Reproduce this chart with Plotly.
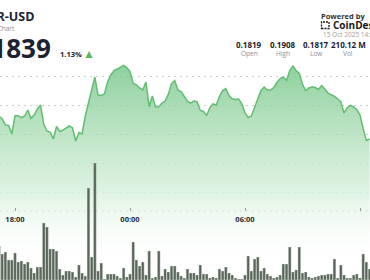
import pandas as pd
import plotly.graph_objects as go

# ---------------- data ----------------
start_time = "2025-10-14 17:10"
price = [0.18655, 0.18629, 0.18578, 0.18573, 0.18500, 0.18658, 0.18658, 0.18642, 0.18655, 0.18707,
         0.18635, 0.18664, 0.18717, 0.18750, 0.18586, 0.18526, 0.18517, 0.18457, 0.18565, 0.18522,
         0.18534, 0.18552, 0.18569, 0.18552, 0.18440, 0.18513, 0.18500, 0.18655, 0.18776, 0.18897,
         0.18991, 0.18836, 0.18832, 0.18845, 0.18948, 0.19009, 0.19047, 0.19060, 0.19078, 0.19091,
         0.19073, 0.19039, 0.18935, 0.18924, 0.18897, 0.18881, 0.18948, 0.18735, 0.18828, 0.18733,
         0.18734, 0.18767, 0.18784, 0.18841, 0.18935, 0.18961, 0.18879, 0.18866, 0.18823, 0.18780,
         0.18767, 0.18784, 0.18778, 0.18703, 0.18694, 0.18659, 0.18728, 0.18759, 0.18750, 0.18823,
         0.18875, 0.18892, 0.18832, 0.18803, 0.18797, 0.18802, 0.18759, 0.18685, 0.18642, 0.18655,
         0.18728, 0.18806, 0.18875, 0.18905, 0.18879, 0.18879, 0.18901, 0.18944, 0.18978, 0.18991,
         0.18961, 0.19047, 0.19086, 0.19047, 0.19023, 0.18927, 0.18875, 0.18897, 0.18908, 0.18901,
         0.18884, 0.18918, 0.18888, 0.18853, 0.18838, 0.18825, 0.18804, 0.18776, 0.18681, 0.18727,
         0.18747, 0.18733, 0.18711, 0.18664, 0.18543, 0.18444, 0.18457]
volume_m = [3.4, 2.6, 2.8, 2.0, 2.0, 2.7, 1.8, 1.9, 1.6, 1.8,
            1.2, 0.7, 1.3, 1.3, 5.7, 5.3, 3.1, 3.1, 2.9, 1.1,
            0.5, 0.9, 0.9, 0.8, 0.3, 1.5, 0.7, 0.4, 9.2, 2.3,
            11.7, 0.9, 1.7, 0.1, 0.6, 0.6, 0.6, 0.4, 0.2, 1.2,
            0.3, 0.6, 3.8, 2.0, 1.4, 1.8, 0.5, 2.9, 0.2, 0.3,
            2.9, 0.4, 1.1, 0.8, 1.4, 1.4, 0.8, 0.4, 0.2, 1.1,
            0.7, 0.7, 0.5, 1.5, 0.6, 0.6, 0.2, 0.3, 0.2, 1.1,
            0.9, 1.3, 0.7, 0.5, 0.2, 0.1, 0.1, 0.5, 2.4, 0.9,
            2.1, 2.3, 0.9, 1.2, 0.6, 0.4, 0.2, 0.3, 0.5, 1.6,
            1.6, 3.3, 0.8, 1.0, 3.3, 0.7, 0.8, 0.3, 0.2, 0.3,
            0.4, 0.5, 0.5, 0.6, 0.6, 2.1, 0.2, 1.5, 0.5, 0.2,
            0.2, 0.5, 0.6, 0.2, 2.6, 1.8, 1.1]
price_grid = [0.1800, 0.1825, 0.1850, 0.1875, 0.1900]
x_view = ["2025-10-14 17:13:02", "2025-10-15 12:31:18"]
title_text = "HBAR-USD"
subtitle_text = "Price Chart"
last_price = "0.1839"
change_pct = "1.13%"
stat_values = ["0.1819", "0.1908", "0.1817", "210.12 M"]
stat_labels = ["Open", "High", "Low", "Vol"]
date_text = "15 Oct 2025 14:30 UTC"

times = pd.date_range(start_time, periods=len(price), freq="10min")

W, H = 370, 280
def px(x):
    return x / W
def py(y):
    return 1 - y / H

fig = go.Figure()
fig.add_trace(go.Scatter(
    x=times, y=price, mode="lines",
    line=dict(color="#62bd72", width=1.5),
    fill="tozeroy",
    fillgradient=dict(
        type="vertical",
        start=0.1735, stop=0.1912,
        colorscale=[[0.0, "rgba(255,255,255,0)"],
                    [0.367, "rgba(214,240,219,0.8)"],
                    [0.65, "rgba(174,222,184,0.8)"],
                    [1.0, "rgba(111,196,131,0.8)"]],
    ),
    hoverinfo="skip",
))
fig.add_trace(go.Bar(
    x=times, y=volume_m, yaxis="y2",
    width=600000 * 0.86,
    marker=dict(color="#596659", line=dict(color="rgba(225,236,226,0.9)", width=0.4)),
    hoverinfo="skip",
))

annotations = []
def txt(text, x, y, size, color, bold=False, xanchor="left", family="Open Sans"):
    annotations.append(dict(
        text=f"<b>{text}</b>" if bold else text,
        x=px(x), y=py(y), xref="paper", yref="paper",
        xanchor=xanchor, yanchor="middle", showarrow=False,
        font=dict(size=size, color=color, family=family)))

txt(title_text, 36, 16.5, 12.5, "#1b2333", bold=True, xanchor="right")
txt(subtitle_text, 16.5, 28.5, 6.5, "#8a8f98", xanchor="right")
txt(last_price, 53, 47.5, 26, "#1b2333", bold=True, xanchor="right")
txt(change_pct, 58, 54, 7.5, "#1b2333", bold=True)
txt("▲", 80.5, 53, 12, "#5cb85c")
txt("Powered by", 319, 15.5, 7.5, "#333333", bold=True)
txt("CoinDesk", 331, 25, 10, "#1a1a1a", bold=True)
txt(date_text, 321, 34, 6.5, "#a0a0a0")
stat_x = [249, 283, 315.5, 348]
for v, l, sx in zip(stat_values, stat_labels, stat_x):
    txt(v, sx, 44, 8, "#1b2333", bold=True, xanchor="center")
    txt(l, sx, 53, 6.5, "#8a8f98", xanchor="center")

shapes = [
    dict(type="line", xref="paper", yref="paper", x0=0, x1=1, y0=py(211), y1=py(211),
         line=dict(color="#c8c8c8", width=1, dash="2px,4px"), layer="below"),
    dict(type="rect", xref="paper", yref="paper", x0=px(321.5), x1=px(329), y0=py(28.5), y1=py(22),
         line=dict(color="#1a1a1a", width=1.3, dash="2px,1px")),
]

fig.update_layout(
    width=W, height=H, margin=dict(l=0, r=0, t=0, b=0),
    paper_bgcolor="white", plot_bgcolor="white",
    showlegend=False, annotations=annotations, shapes=shapes,
    xaxis=dict(range=x_view, type="date", anchor="free", position=py(211),
               showgrid=False, zeroline=False, showline=False,
               tick0="2025-10-14 00:00", dtick=6 * 3600000, tickformat="%H:%M",
               ticks="inside", ticklen=3, tickcolor="#999999", tickwidth=1,
               tickfont=dict(size=7.5, color="#1f2937", family="Open Sans", weight="bold"),
               ticklabelstandoff=2),
    yaxis=dict(range=[0.172414, 0.196552], tickvals=price_grid, showticklabels=False,
               showgrid=True, gridcolor="#cbcbcb", griddash="2px,4px", gridwidth=1,
               zeroline=False, showline=False),
    yaxis2=dict(range=[0, 28], overlaying="y", visible=False),
)

fig.write_html("out.html")
